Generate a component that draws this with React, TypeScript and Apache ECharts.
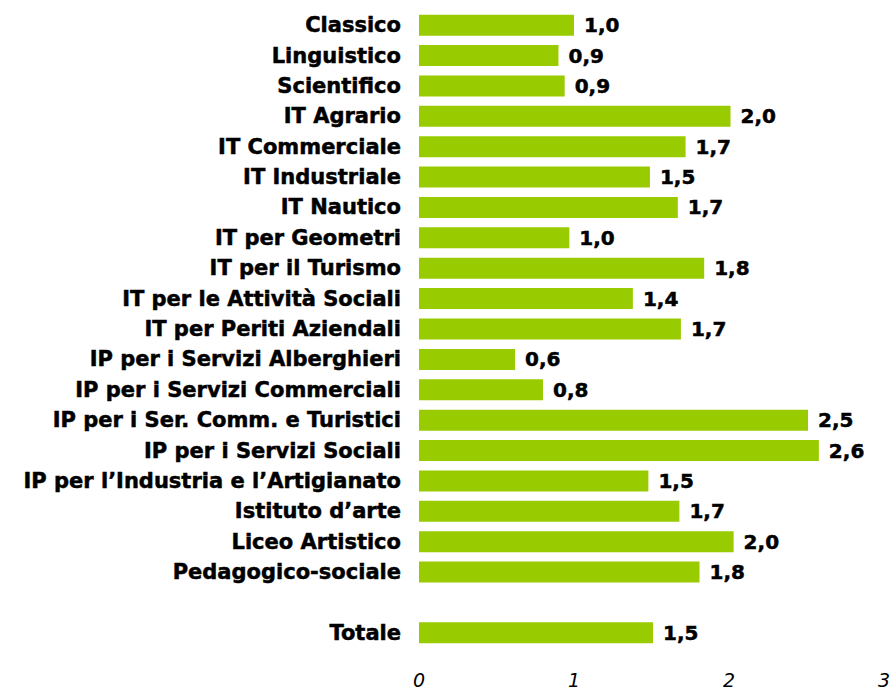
import React, { useEffect, useRef } from "react";
import * as echarts from "echarts";

const categories = [
  "Classico",
  "Linguistico",
  "Scientifico",
  "IT Agrario",
  "IT Commerciale",
  "IT Industriale",
  "IT Nautico",
  "IT per Geometri",
  "IT per il Turismo",
  "IT per le Attività Sociali",
  "IT per Periti Aziendali",
  "IP per i Servizi Alberghieri",
  "IP per i Servizi Commerciali",
  "IP per i Ser. Comm. e Turistici",
  "IP per i Servizi Sociali",
  "IP per l’Industria e l’Artigianato",
  "Istituto d’arte",
  "Liceo Artistico",
  "Pedagogico-sociale",
  "",
  "Totale",
];

const values: (number | null)[] = [
  1.0, 0.9, 0.94, 2.01, 1.72, 1.49, 1.67, 0.97, 1.84, 1.38, 1.69, 0.62, 0.8,
  2.51, 2.58, 1.48, 1.68, 2.03, 1.81, null, 1.51,
];

const xTicks = [0, 1, 2, 3];

export default function App() {
  const ref = useRef<HTMLDivElement>(null);
  useEffect(() => {
    if (!ref.current) return;
    const chart = echarts.init(ref.current, undefined, { renderer: "svg" });
    chart.setOption({
      animation: false,
      grid: { left: 419, right: 8, top: 10, height: 638 },
      xAxis: {
        type: "value",
        min: xTicks[0],
        max: xTicks[xTicks.length - 1],
        interval: 1,
        splitLine: { show: false },
        axisLine: { show: false },
        axisTick: { show: false },
        axisLabel: {
          margin: 22,
          fontFamily: "DejaVu Sans",
          fontStyle: "italic",
          fontSize: 19,
          lineHeight: 19,
          color: "#000",
        },
      },
      yAxis: {
        type: "category",
        inverse: true,
        data: categories,
        axisLine: { show: false },
        axisTick: { show: false },
        axisLabel: {
          margin: 18,
          fontFamily: "DejaVu Sans",
          fontWeight: "bold",
          fontSize: 21,
          color: "#000",
          textBorderColor: "#000",
          textBorderWidth: 0.5,
        },
      },
      series: [
        {
          type: "bar",
          data: values,
          barWidth: 21,
          itemStyle: { color: "#99CC00" },
          label: {
            show: true,
            position: "right",
            distance: 10,
            fontFamily: "DejaVu Sans",
            fontWeight: "bold",
            fontSize: 20,
            color: "#000",
            textBorderColor: "#000",
            textBorderWidth: 0.5,
            formatter: (p: any) =>
              p.value == null ? "" : Number(p.value).toFixed(1).replace(".", ","),
          },
        },
      ],
    });
    return () => chart.dispose();
  }, []);
  return (
    <div
      ref={ref}
      style={{ position: "fixed", left: 0, top: 0, width: 893, height: 691, background: "#fff" }}
    />
  );
}
